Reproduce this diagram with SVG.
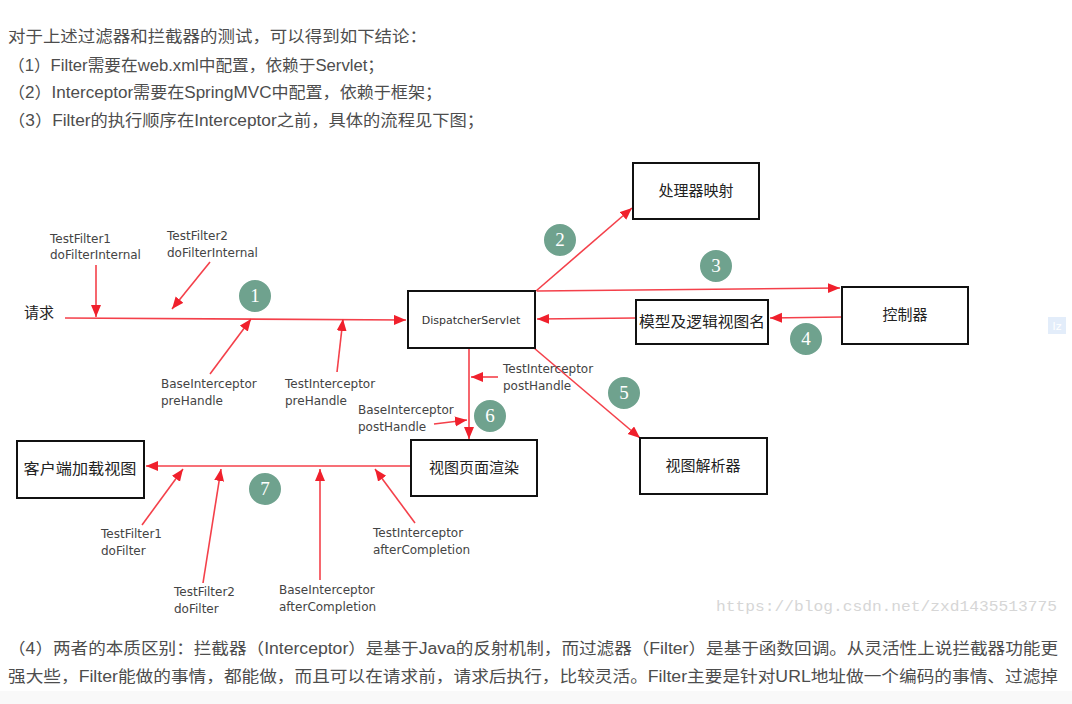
<svg xmlns="http://www.w3.org/2000/svg" width="1072" height="704" viewBox="0 0 1072 704">
<defs>
<marker id="ah" markerUnits="userSpaceOnUse" markerWidth="13" markerHeight="11" refX="12" refY="5" orient="auto">
<path d="M0,0 L12,5 L0,10 z" fill="#f0202c"/>
</marker>
<style>
.para{font-family:"Liberation Sans","Noto Sans CJK SC",sans-serif;font-size:16px;fill:#4d4d4d}
.box{fill:#fff;stroke:#111;stroke-width:2}
.bt{font-family:"Noto Sans CJK SC",sans-serif;font-size:15px;fill:#222;text-anchor:middle}
.lbl{font-family:"DejaVu Sans",sans-serif;font-size:12px;fill:#444}
.ln{stroke:#f4404a;stroke-width:1.6;fill:none;marker-end:url(#ah)}
.num circle{fill:#6fa28e;stroke:#fff;stroke-width:2}
.num text{font-family:"Liberation Serif",serif;font-size:19px;fill:#fff;text-anchor:middle}
</style>
</defs>
<rect width="1072" height="704" fill="#fff"/>
<rect x="0" y="691" width="1072" height="13" fill="#f9f9f9"/>
<g id="text-top">
<text class="para" x="8" y="42" textLength="419" lengthAdjust="spacingAndGlyphs">对于上述过滤器和拦截器的测试，可以得到如下结论：</text>
<text class="para" x="8" y="71" textLength="376" lengthAdjust="spacingAndGlyphs">（1）Filter需要在web.xml中配置，依赖于Servlet；</text>
<text class="para" x="8" y="98" textLength="434" lengthAdjust="spacingAndGlyphs">（2）Interceptor需要在SpringMVC中配置，依赖于框架；</text>
<text class="para" x="8" y="126" textLength="476" lengthAdjust="spacingAndGlyphs">（3）Filter的执行顺序在Interceptor之前，具体的流程见下图；</text>
</g>
<g id="text-bottom">
<text class="para" x="8" y="654" textLength="1050" lengthAdjust="spacingAndGlyphs">（4）两者的本质区别：拦截器（Interceptor）是基于Java的反射机制，而过滤器（Filter）是基于函数回调。从灵活性上说拦截器功能更</text>
<text class="para" x="8" y="682" textLength="1050" lengthAdjust="spacingAndGlyphs">强大些，Filter能做的事情，都能做，而且可以在请求前，请求后执行，比较灵活。Filter主要是针对URL地址做一个编码的事情、过滤掉</text>
</g>
<g id="connectors">
<path class="ln" d="M65,318 L406,320"/>
<path class="ln" d="M96,265 L96,317"/>
<path class="ln" d="M210,262 L172,309"/>
<path class="ln" d="M210,374 L251,319"/>
<path class="ln" d="M337,372 L343,319"/>
<path class="ln" d="M536,291 L632,208"/>
<path class="ln" d="M537,291 L840,288"/>
<path class="ln" d="M842,317 L770,318"/>
<path class="ln" d="M636,318 L537,319"/>
<path class="ln" d="M534,348 L640,438"/>
<path class="ln" d="M469,349 L469,439"/>
<path class="ln" d="M498,377 L471,377"/>
<path class="ln" d="M434,424 L467,420"/>
<path class="ln" d="M411,466 L146,466"/>
<path class="ln" d="M142,525 L183,469"/>
<path class="ln" d="M203,583 L221,469"/>
<path class="ln" d="M320,580 L320,469"/>
<path class="ln" d="M415,523 L375,469"/>
</g>
<g id="request"><text x="24" y="318" style="font-family:'Noto Sans CJK SC',sans-serif;font-size:15px;fill:#222">请求</text></g>
<g id="dispatcher"><rect class="box" x="408" y="291" width="127" height="57"/><text x="471" y="324" style="font-family:'DejaVu Sans',sans-serif;font-size:11px;fill:#333;text-anchor:middle">DispatcherServlet</text></g>
<g id="handler-mapping"><rect class="box" x="633" y="163" width="126" height="56"/><text class="bt" x="696" y="196">处理器映射</text></g>
<g id="controller"><rect class="box" x="842" y="287" width="126" height="57"/><text class="bt" x="905" y="320">控制器</text></g>
<g id="model-view"><rect class="box" x="636" y="300" width="132" height="44"/><text class="bt" x="702" y="327" textLength="126" lengthAdjust="spacingAndGlyphs">模型及逻辑视图名</text></g>
<g id="view-resolver"><rect class="box" x="640" y="438" width="127" height="56"/><text class="bt" x="703" y="471">视图解析器</text></g>
<g id="view-render"><rect class="box" x="411" y="440" width="126" height="56"/><text class="bt" x="474" y="473">视图页面渲染</text></g>
<g id="client-view"><rect class="box" x="17" y="441" width="127" height="57"/><text class="bt" x="80" y="474" textLength="113" lengthAdjust="spacingAndGlyphs">客户端加载视图</text></g>
<g id="labels">
<text class="lbl" x="50" y="243">TestFilter1</text><text class="lbl" x="50" y="259">doFilterInternal</text>
<text class="lbl" x="167" y="240">TestFilter2</text><text class="lbl" x="167" y="257">doFilterInternal</text>
<text class="lbl" x="161" y="388">BaseInterceptor</text><text class="lbl" x="161" y="405">preHandle</text>
<text class="lbl" x="285" y="388">TestInterceptor</text><text class="lbl" x="285" y="405">preHandle</text>
<text class="lbl" x="503" y="373">TestInterceptor</text><text class="lbl" x="503" y="390">postHandle</text>
<text class="lbl" x="358" y="414">BaseInterceptor</text><text class="lbl" x="358" y="431">postHandle</text>
<text class="lbl" x="101" y="538">TestFilter1</text><text class="lbl" x="101" y="555">doFilter</text>
<text class="lbl" x="174" y="596">TestFilter2</text><text class="lbl" x="174" y="613">doFilter</text>
<text class="lbl" x="279" y="594">BaseInterceptor</text><text class="lbl" x="279" y="611">afterCompletion</text>
<text class="lbl" x="373" y="537">TestInterceptor</text><text class="lbl" x="373" y="554">afterCompletion</text>
</g>
<g id="steps" class="num">
<g id="step1"><circle cx="255" cy="296" r="17"/><text x="255" y="302">1</text></g>
<g id="step2"><circle cx="560" cy="240" r="17"/><text x="560" y="246">2</text></g>
<g id="step3"><circle cx="716" cy="266" r="17"/><text x="716" y="272">3</text></g>
<g id="step4"><circle cx="806" cy="339" r="17"/><text x="806" y="345">4</text></g>
<g id="step5"><circle cx="624" cy="393" r="17"/><text x="624" y="399">5</text></g>
<g id="step6"><circle cx="490" cy="416" r="17"/><text x="490" y="422">6</text></g>
<g id="step7"><circle cx="265" cy="489" r="17"/><text x="265" y="495">7</text></g>
</g>
<g id="watermark"><text x="716" y="611" textLength="341" lengthAdjust="spacingAndGlyphs" style="font-family:'Liberation Mono',monospace;font-size:15px;fill:#d6d6d6">https://blog.csdn.net/zxd1435513775</text></g>
<g id="side-tab"><rect x="1048" y="317" width="18" height="17" fill="#e3edfa"/><text x="1057" y="330" style="font-family:'DejaVu Sans',sans-serif;font-size:11px;fill:#fff;text-anchor:middle">lz</text></g>
</svg>
